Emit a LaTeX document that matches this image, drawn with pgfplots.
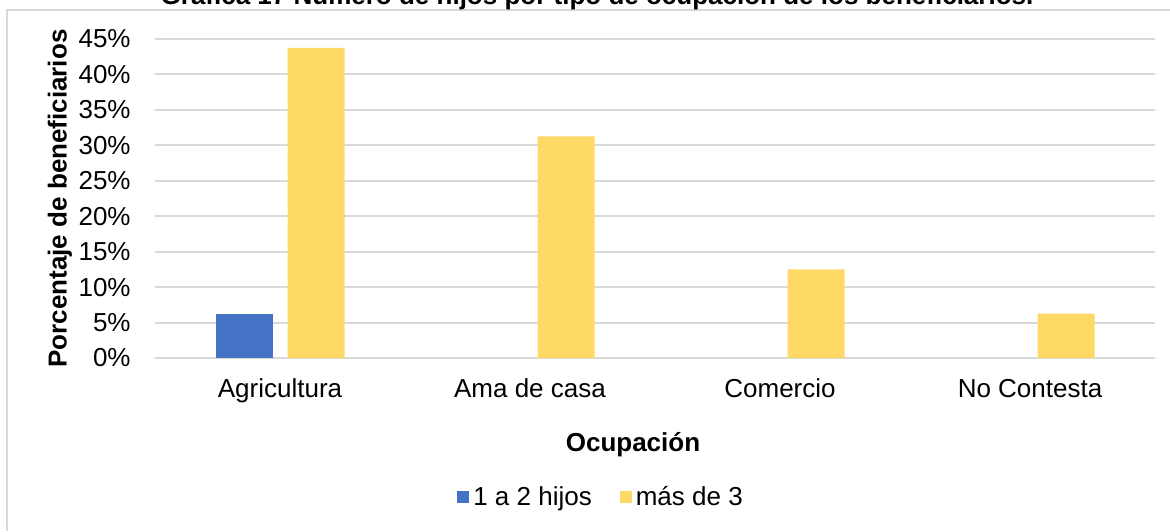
\documentclass[border=0pt]{standalone}
\usepackage{pgfplots}
\pgfplotsset{compat=1.18}
\usepackage{fontspec}
\setmainfont{Liberation Sans}
\definecolor{cblue}{HTML}{4472C4}
\definecolor{cyellow}{HTML}{FFD966}
\definecolor{cgrid}{HTML}{D9D9D9}
\begin{document}
\begin{tikzpicture}[x=1pt,y=1pt]
\useasboundingbox (0,0) rectangle (585,265.5);
\clip (0,0) rectangle (585,265.5);
\fill[white] (0,0) rectangle (585,265.5);
\draw[cgrid, line width=1pt] (3.5,0) -- (3.5,260.5) -- (590,260.5);
\node[anchor=base, font=\fontsize{13}{15}\selectfont\bfseries] at (298.5,263) {Gráfica 17 Número de hijos por tipo de ocupación de los beneficiarios.};
\begin{axis}[
  at={(77.5pt,86.5pt)}, anchor=south west,
  scale only axis, width=500pt, height=159.5pt,
  ybar=7.5pt, bar width=28.5pt,
  xmin=-0.5, xmax=3.5, ymin=0, ymax=45,
  xtick={0,1,2,3},
  xticklabels={Agricultura,Ama de casa,Comercio,No Contesta},
  ytick={0,5,...,45},
  yticklabel={\pgfmathprintnumber{\tick}\%},
  /pgf/number format/assume math mode=true,
  major tick length=0pt,
  axis line style={draw=none},
  ymajorgrids, grid style={cgrid, line width=1pt},
  tick label style={font=\fontsize{13}{15}\selectfont},
  yticklabel style={anchor=east, inner sep=0pt, xshift=-12pt},
  xticklabel style={anchor=north, inner sep=0pt, yshift=-10pt, text height=9.5pt, text depth=2.8pt},
  xlabel={Ocupación},
  ylabel={Porcentaje de beneficiarios},
  label style={font=\fontsize{13}{15}\selectfont\bfseries},
  xlabel style={at={(axis description cs:0.478,-0.273)}, anchor=center},
  ylabel style={at={(axis description cs:-0.095,0.5)}, anchor=center},
  legend style={draw=none, at={(axis description cs:0.447,-0.436)}, anchor=center,
    legend columns=2, font=\fontsize{13}{15}\selectfont,
    /tikz/every even column/.append style={column sep=12pt}},
  legend image code/.code={\fill[#1] (0pt,-3pt) rectangle (6pt,3pt);},
]
\addplot[fill=cblue, draw=none] coordinates {(0,6.25)};
\addplot[fill=cyellow, draw=none] coordinates {(0,43.75) (1,31.25) (2,12.5) (3,6.25)};
\legend{1 a 2 hijos, más de 3}
\end{axis}
\end{tikzpicture}
\end{document}
